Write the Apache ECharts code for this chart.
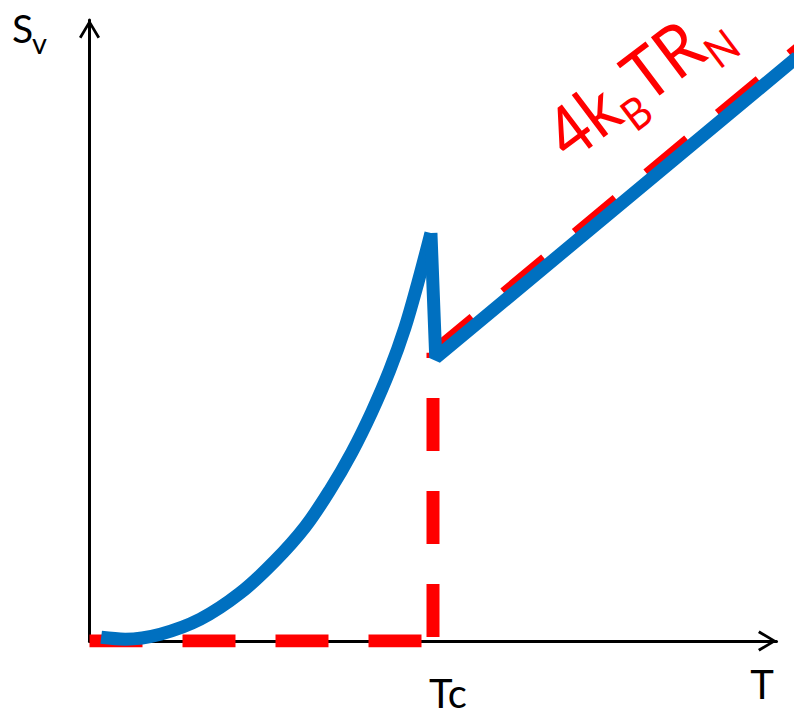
<!DOCTYPE html>
<html>
<head>
<meta charset="utf-8">
<script src="https://cdn.jsdelivr.net/npm/echarts@6/dist/echarts.min.js"></script>
<style>
  html, body { margin: 0; padding: 0; background: #ffffff; }
  #chart { width: 794px; height: 718px; }
</style>
</head>
<body>
<div id="chart"></div>
<script>
// Voltage noise S_v against temperature T, with the critical temperature Tc.
const T_C = 5.0;
const X_MAX = 10;
const Y_MAX = 10;

// Superconducting branch: from near zero up to the peak just below Tc
const superX = [0.17, 0.52, 1.03, 1.61, 2.19, 2.70, 3.14, 3.50, 3.82, 4.11, 4.37, 4.59, 4.78, 4.97];
const superY = [0.06, 0.03, 0.11, 0.35, 0.77, 1.29, 1.84, 2.43, 3.04, 3.69, 4.36, 5.04, 5.77, 6.57];

// Drop at Tc, then the linear normal-state branch
const normalX = [4.97, 5.04, 10.3];
const normalY = [6.57, 4.56, 9.40];

// Dashed guides: zero noise below Tc, the Tc marker, and the 4kBTRN line
const zeroX = [0, T_C];
const zeroY = [0, 0];
const tcMarkX = [T_C, T_C];
const tcMarkY = [0, 4.64];
const johnsonX = [T_C, 10.6];
const johnsonY = [4.64, 9.79];

// Texts
const xTickLabel = 'Tc';
const xAxisName = 'T';
const yAxisName = ['S', 'v'];
const johnsonLabel = [['4k', false], ['B', true], ['TR', false], ['N', true]];

const BLUE = '#0070C0';
const RED = '#FF0000';
const FONT = 'Lato';

const W = 794;
const GRID_LEFT = 89.5, GRID_RIGHT = 17.5, GRID_TOP = 20, GRID_BOTTOM = 77;
const AXIS_W = W - GRID_LEFT - GRID_RIGHT;
// the curves run on past the arrow head, so they get a wider twin grid with the same scale
const X_MAX_WIDE = X_MAX * (W - GRID_LEFT) / AXIS_W;

const pairs = (xs, ys) => xs.map((x, i) => [x, ys[i]]);

// open chevron used as the axis arrow head (tip at the top)
const arrowHead = 'path://M10.5,0 L21,17.4 L18.6,19 L10.5,5.2 L2.4,19 L0,17.4 Z';

const measureCtx = document.createElement('canvas').getContext('2d');
function textWidth(str, size) {
  measureCtx.font = size + 'px ' + FONT;
  return measureCtx.measureText(str).width;
}
// y of a 'middle'-aligned text so that its baseline sits at 0
const MID = 0.387;

// rotated "4kBTRN" label: main text plus subscripts laid along one baseline
const labelMain = 72, labelSub = 44, subDrop = 16;
const labelChildren = [];
let cursor = 0;
johnsonLabel.forEach(([str, isSub]) => {
  const size = isSub ? labelSub : labelMain;
  labelChildren.push({
    type: 'text',
    x: cursor,
    y: (isSub ? subDrop : 0) - MID * size,
    style: { text: str, fontSize: size, fontFamily: FONT, fill: RED, align: 'left', verticalAlign: 'middle' }
  });
  cursor += textWidth(str, size);
});

const chart = echarts.init(document.getElementById('chart'), null, { renderer: 'svg' });

const axisLineCommon = {
  show: true,
  symbol: ['none', arrowHead],
  symbolSize: [21, 19],
  symbolOffset: [0, -9],
  lineStyle: { color: '#000000', width: 3 }
};
const hiddenAxis = {
  show: false, axisLine: { show: false }, axisTick: { show: false },
  axisLabel: { show: false }, splitLine: { show: false }
};

const dashed = (xs, ys, offset) => ({
  type: 'line', data: pairs(xs, ys), symbol: 'none', xAxisIndex: 1, yAxisIndex: 1, z: 2,
  lineStyle: { color: RED, width: 13, type: [53, 40], dashOffset: offset, cap: 'butt' }
});

chart.setOption({
  animation: false,
  backgroundColor: '#ffffff',
  grid: [
    { left: GRID_LEFT, right: GRID_RIGHT, top: GRID_TOP, bottom: GRID_BOTTOM },
    { left: GRID_LEFT, right: 0, top: GRID_TOP, bottom: GRID_BOTTOM }
  ],
  xAxis: [
    {
      type: 'value', gridIndex: 0, min: 0, max: X_MAX, interval: T_C,
      axisLine: axisLineCommon,
      axisTick: { show: false },
      splitLine: { show: false },
      axisLabel: {
        show: true,
        formatter: (v) => (v === T_C ? xTickLabel : ''),
        align: 'left',
        padding: [0, 0, 0, -4],
        margin: 34,
        lineHeight: 36,
        fontSize: 40,
        fontFamily: FONT,
        color: '#000000'
      }
    },
    Object.assign({ type: 'value', gridIndex: 1, min: 0, max: X_MAX_WIDE }, hiddenAxis)
  ],
  yAxis: [
    {
      type: 'value', gridIndex: 0, min: 0, max: Y_MAX, interval: 5,
      axisLine: axisLineCommon,
      axisTick: { show: false },
      splitLine: { show: false },
      axisLabel: { show: false }
    },
    Object.assign({ type: 'value', gridIndex: 1, min: 0, max: Y_MAX }, hiddenAxis)
  ],
  series: [
    dashed(zeroX, zeroY, 0),
    dashed(tcMarkX, tcMarkY, -4),
    dashed(johnsonX, johnsonY, 0),
    {
      type: 'line', data: pairs(superX, superY), symbol: 'none', smooth: 0.35,
      xAxisIndex: 1, yAxisIndex: 1, z: 3,
      lineStyle: { color: BLUE, width: 13, cap: 'butt' }
    },
    {
      type: 'line', data: pairs(normalX, normalY), symbol: 'none',
      xAxisIndex: 1, yAxisIndex: 1, z: 3,
      lineStyle: { color: BLUE, width: 13, cap: 'butt', join: 'bevel' }
    }
  ],
  graphic: [
    {
      type: 'text', x: 12, y: 28,
      style: { text: yAxisName[0], fontSize: 39, fontFamily: FONT, fill: '#000000', align: 'left', verticalAlign: 'middle' }
    },
    {
      type: 'text', x: 32, y: 42,
      style: { text: yAxisName[1], fontSize: 29, fontFamily: FONT, fill: '#000000', align: 'left', verticalAlign: 'middle' }
    },
    {
      type: 'text', x: 762, y: 684,
      style: { text: xAxisName, fontSize: 40, fontFamily: FONT, fill: '#000000', align: 'center', verticalAlign: 'middle' }
    },
    {
      // Lato runs wider than the original face, so the label is condensed along its baseline
      type: 'group', x: 570, y: 163, rotation: 37 * Math.PI / 180, scaleX: 0.9,
      children: labelChildren
    }
  ]
});
</script>
</body>
</html>
